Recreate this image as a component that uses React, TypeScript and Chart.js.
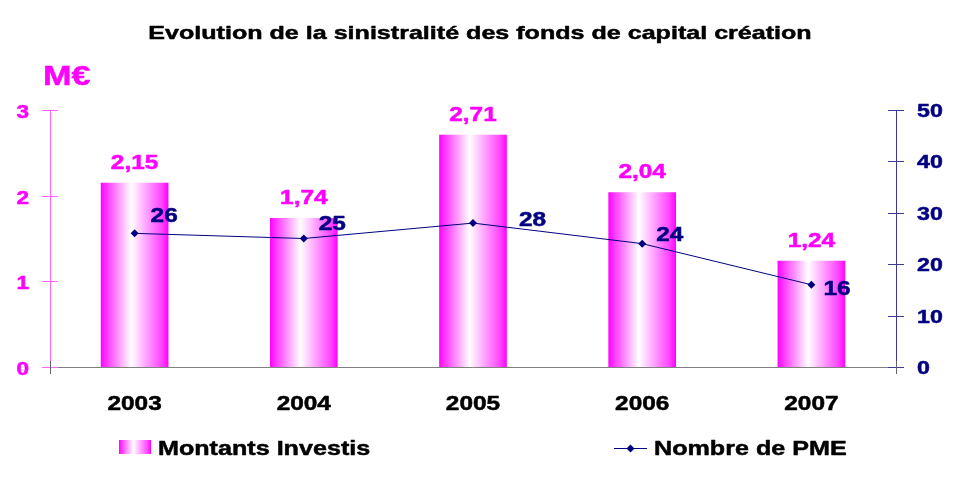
import React, { useEffect, useRef } from "react";
import { Chart, registerables } from "chart.js";

Chart.register(...registerables);

const YEARS = ["2003", "2004", "2005", "2006", "2007"];
const MONTANTS = [2.15, 1.74, 2.71, 2.04, 1.24];
const NB_PME = [26, 25, 28, 24, 16];
const LEFT_TICKS = [0, 1, 2, 3];
const RIGHT_TICKS = [0, 10, 20, 30, 40, 50];
const TITLE = "Evolution de la sinistralité des fonds de capital création";
const UNIT = "M€";
const SERIES_NAMES = ["Montants Investis", "Nombre de PME"];

const MAGENTA = "#ff00ff";
const LIGHT_MAGENTA = "#ff66ff";
const NAVY = "#000080";
const AXIS_NAVY = "#3a3a99";
const SX = 1.22;
const FONT = "'Liberation Sans', Arial, Helvetica, sans-serif";
const BAR_FRACTION = 0.4;

// label offsets for the line values (dx, dy from point)
const LINE_LABEL_OFFSETS: [number, number][] = [
  [16, -11],
  [15, -9],
  [46, 3],
  [14, -3],
  [12, 10],
];

function drawText(
  ctx: CanvasRenderingContext2D,
  text: string,
  x: number,
  y: number,
  size: number,
  color: string,
  align: "left" | "center" | "right",
  sx: number = SX
) {
  ctx.save();
  ctx.font = `bold ${size}px ${FONT}`;
  ctx.fillStyle = color;
  ctx.strokeStyle = color;
  ctx.lineWidth = 0.5;
  ctx.lineJoin = "round";
  ctx.textBaseline = "alphabetic";
  ctx.textAlign = "left";
  const w = ctx.measureText(text).width * sx;
  let left = x;
  if (align === "center") left = x - w / 2;
  else if (align === "right") left = x - w;
  ctx.translate(left, y);
  ctx.scale(sx, 1);
  ctx.fillText(text, 0, 0);
  ctx.strokeText(text, 0, 0);
  ctx.restore();
}

function barGradient(ctx: CanvasRenderingContext2D, left: number, right: number) {
  const g = ctx.createLinearGradient(left, 0, right, 0);
  g.addColorStop(0, "#ff00ff");
  g.addColorStop(0.08, "#ff33ff");
  g.addColorStop(0.45, "#ffffff");
  g.addColorStop(0.9, "#ff44ff");
  g.addColorStop(1, "#ff00ff");
  return g;
}

const fmt = (v: number) => v.toFixed(2).replace(".", ",");

const textPlugin = {
  id: "textPlugin",
  afterDatasetsDraw(chart: any) {
    const ctx: CanvasRenderingContext2D = chart.ctx;
    const barMeta = chart.getDatasetMeta(0);
    barMeta.data.forEach((el: any, i: number) => {
      drawText(ctx, fmt(MONTANTS[i]), el.x, el.y - 14, 20, MAGENTA, "center");
    });
    const lineMeta = chart.getDatasetMeta(1);
    lineMeta.data.forEach((el: any, i: number) => {
      const [dx, dy] = LINE_LABEL_OFFSETS[i] || [14, -8];
      drawText(ctx, String(NB_PME[i]), el.x + dx, el.y + dy, 20, NAVY, "left");
    });
  },
  afterDraw(chart: any) {
    const ctx: CanvasRenderingContext2D = chart.ctx;
    const area = chart.chartArea;
    const ys = chart.scales.y;
    const y1 = chart.scales.y1;
    const xs = chart.scales.x;

    // tick marks crossing the axes
    ctx.save();
    ctx.lineWidth = 1;
    ctx.strokeStyle = LIGHT_MAGENTA;
    ys.ticks.forEach((t: any) => {
      const py = Math.round(ys.getPixelForValue(t.value)) + 0.5;
      ctx.beginPath();
      ctx.moveTo(area.left - 8, py);
      ctx.lineTo(area.left + 8, py);
      ctx.stroke();
    });
    ctx.strokeStyle = AXIS_NAVY;
    y1.ticks.forEach((t: any) => {
      const py = Math.round(y1.getPixelForValue(t.value)) + 0.5;
      ctx.beginPath();
      ctx.moveTo(area.right - 8, py);
      ctx.lineTo(area.right + 8, py);
      ctx.stroke();
    });
    ctx.strokeStyle = "#666666";
    [area.left, area.right].forEach((px: number) => {
      ctx.beginPath();
      ctx.moveTo(Math.round(px) + 0.5, area.bottom - 6);
      ctx.lineTo(Math.round(px) + 0.5, area.bottom + 7);
      ctx.stroke();
    });
    ctx.restore();

    // tick labels
    ys.ticks.forEach((t: any) => {
      drawText(ctx, String(t.value), area.left - 21, ys.getPixelForValue(t.value) + 8, 18.5, MAGENTA, "right");
    });
    y1.ticks.forEach((t: any) => {
      drawText(ctx, String(t.value), area.right + 21, y1.getPixelForValue(t.value) + 7, 19, NAVY, "left");
    });
    YEARS.forEach((lab, i) => {
      drawText(ctx, lab, xs.getPixelForValue(i), area.bottom + 43, 20, "#000000", "center");
    });

    // title and unit
    drawText(ctx, TITLE, 480, 39, 19, "#000000", "center", 1.32);
    drawText(ctx, UNIT, 43, 85, 28, MAGENTA, "left");

    // legend
    const ly = 447;
    ctx.save();
    ctx.fillStyle = barGradient(ctx, 119, 151);
    ctx.fillRect(119, ly - 7, 32, 14);
    ctx.restore();
    drawText(ctx, SERIES_NAMES[0], 158, ly + 8, 20.6, "#000000", "left");

    ctx.save();
    ctx.strokeStyle = NAVY;
    ctx.lineWidth = 1;
    ctx.beginPath();
    ctx.moveTo(614, ly + 1.5);
    ctx.lineTo(647, ly + 1.5);
    ctx.stroke();
    ctx.fillStyle = NAVY;
    ctx.beginPath();
    ctx.moveTo(630.5, ly - 2.5);
    ctx.lineTo(634.5, ly + 1.5);
    ctx.lineTo(630.5, ly + 5.5);
    ctx.lineTo(626.5, ly + 1.5);
    ctx.closePath();
    ctx.fill();
    ctx.restore();
    drawText(ctx, SERIES_NAMES[1], 654, ly + 8, 20.6, "#000000", "left");
  },
};

export default function App() {
  const ref = useRef<HTMLCanvasElement | null>(null);

  useEffect(() => {
    if (!ref.current) return;
    const chart = new Chart(ref.current, {
      type: "bar",
      data: {
        labels: YEARS,
        datasets: [
          {
            type: "bar",
            label: SERIES_NAMES[0],
            data: MONTANTS,
            yAxisID: "y",
            order: 1,
            categoryPercentage: 1,
            barPercentage: BAR_FRACTION,
            borderWidth: 0,
            backgroundColor: (c: any) => {
              const chart = c.chart;
              const xs = chart.scales && chart.scales.x;
              if (!xs || c.dataIndex === undefined || !chart.chartArea) return MAGENTA;
              const cx = xs.getPixelForValue(c.dataIndex);
              const w = (xs.width / YEARS.length) * BAR_FRACTION;
              return barGradient(chart.ctx, cx - w / 2, cx + w / 2);
            },
          } as any,
          {
            type: "line",
            label: SERIES_NAMES[1],
            data: NB_PME,
            yAxisID: "y1",
            order: 0,
            borderColor: NAVY,
            borderWidth: 1,
            backgroundColor: NAVY,
            pointStyle: "rectRot",
            pointRadius: 4,
            pointBackgroundColor: NAVY,
            pointBorderColor: NAVY,
            pointBorderWidth: 0,
            tension: 0,
            fill: false,
          } as any,
        ],
      },
      options: {
        animation: false,
        responsive: false,
        maintainAspectRatio: false,
        devicePixelRatio: 1,
        layout: { padding: { top: 110, left: 0, right: 0, bottom: 0 } },
        plugins: {
          legend: { display: false },
          title: { display: false },
          tooltip: { enabled: false },
        },
        scales: {
          x: {
            type: "category",
            offset: true,
            grid: { display: false, drawTicks: false },
            border: { display: true, color: "#808080", width: 1 },
            ticks: { display: false },
            afterFit: (s: any) => {
              s.height = 113;
            },
          },
          y: {
            position: "left",
            min: LEFT_TICKS[0],
            max: LEFT_TICKS[LEFT_TICKS.length - 1],
            ticks: { display: false, stepSize: 1 },
            grid: { display: false, drawTicks: false },
            border: { display: true, color: LIGHT_MAGENTA, width: 1 },
            afterFit: (s: any) => {
              s.width = 50;
            },
          },
          y1: {
            position: "right",
            min: RIGHT_TICKS[0],
            max: RIGHT_TICKS[RIGHT_TICKS.length - 1],
            ticks: { display: false, stepSize: 10 },
            grid: { display: false, drawTicks: false },
            border: { display: true, color: AXIS_NAVY, width: 1 },
            afterFit: (s: any) => {
              s.width = 58;
            },
          },
        } as any,
      },
      plugins: [textPlugin],
    });
    return () => chart.destroy();
  }, []);

  return (
    <div style={{ position: "absolute", left: 0, top: 0, width: 954, height: 480, background: "#ffffff" }}>
      <canvas ref={ref} width={954} height={480} style={{ width: 954, height: 480 }} />
    </div>
  );
}
